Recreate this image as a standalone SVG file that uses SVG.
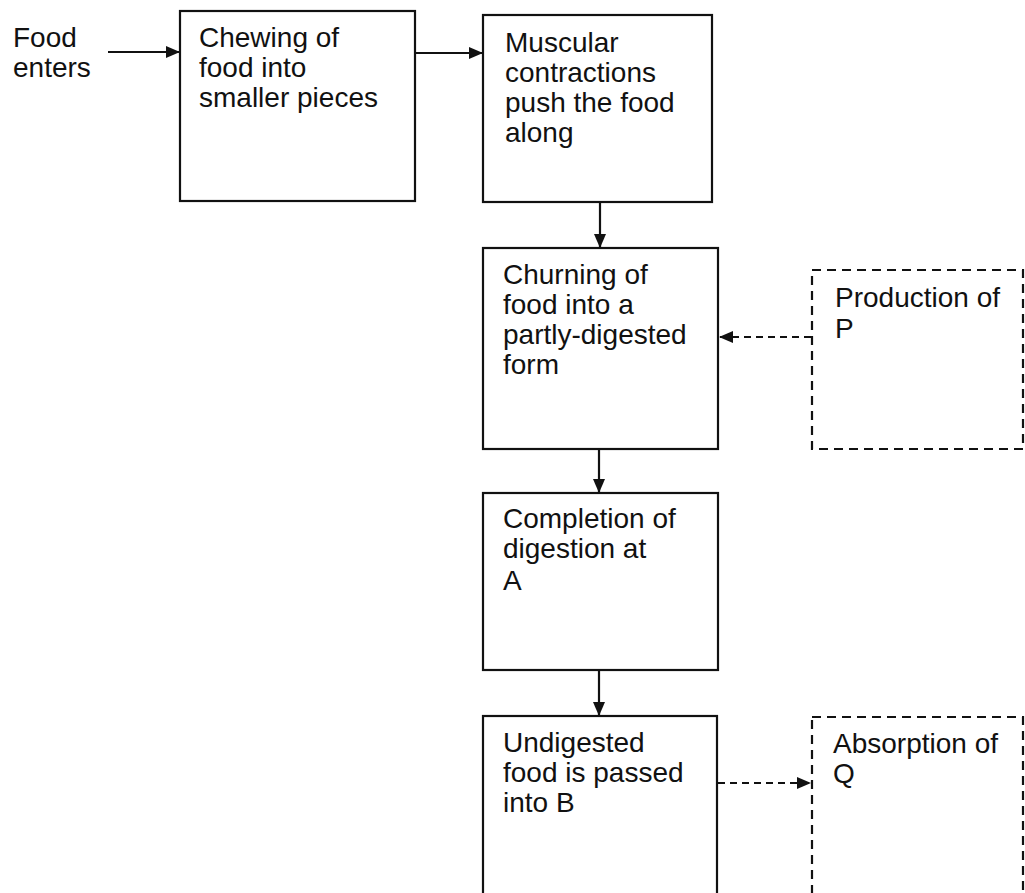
<svg xmlns="http://www.w3.org/2000/svg" width="1025" height="893" viewBox="0 0 1025 893">
<style>
.box{fill:#fff;stroke:#111;stroke-width:2.2}
.dbox{fill:#fff;stroke:#111;stroke-width:2.2;stroke-dasharray:9 6}
.t{font-family:"Liberation Sans",Arial,sans-serif;font-size:28px;fill:#111}
.c{stroke:#111;stroke-width:2.2;fill:none}
.dc{stroke:#111;stroke-width:2;fill:none;stroke-dasharray:7 5}
</style>
<defs>
<marker id="ah" markerUnits="userSpaceOnUse" markerWidth="16" markerHeight="14" refX="14" refY="7" orient="auto">
<path d="M0,1 L14,7 L0,13 Z" fill="#111"/>
</marker>
</defs>
<rect width="1025" height="893" fill="#fff"/>
<g id="food-enters"><text class="t" x="13" y="47">Food</text><text class="t" x="13" y="77">enters</text></g>
<g id="chewing"><rect class="box" x="180" y="11" width="235" height="190"/>
<text class="t" x="199" y="47">Chewing of</text><text class="t" x="199" y="77">food into</text><text class="t" x="199" y="107">smaller pieces</text></g>
<g id="muscular"><rect class="box" x="483" y="15" width="229" height="187"/>
<text class="t" x="505" y="52">Muscular</text><text class="t" x="505" y="82">contractions</text><text class="t" x="505" y="112">push the food</text><text class="t" x="505" y="142">along</text></g>
<g id="churning"><rect class="box" x="483" y="248" width="235" height="201"/>
<text class="t" x="503" y="284">Churning of</text><text class="t" x="503" y="314">food into a</text><text class="t" x="503" y="344">partly-digested</text><text class="t" x="503" y="374">form</text></g>
<g id="production"><rect class="dbox" x="812" y="270" width="211" height="179"/>
<text class="t" x="835" y="307">Production of</text><text class="t" x="835" y="338">P</text></g>
<g id="completion"><rect class="box" x="483" y="493" width="235" height="177"/>
<text class="t" x="503" y="528">Completion of</text><text class="t" x="503" y="558">digestion at</text><text class="t" x="503" y="590">A</text></g>
<g id="undigested"><rect class="box" x="483" y="716" width="234" height="200"/>
<text class="t" x="503" y="752">Undigested</text><text class="t" x="503" y="782">food is passed</text><text class="t" x="503" y="812">into B</text></g>
<g id="absorption"><rect class="dbox" x="812" y="717" width="211" height="200"/>
<text class="t" x="833" y="753">Absorption of</text><text class="t" x="833" y="783">Q</text></g>
<g id="connectors">
<line class="c" x1="108" y1="52" x2="180" y2="52" marker-end="url(#ah)"/>
<line class="c" x1="415" y1="53" x2="483" y2="53" marker-end="url(#ah)"/>
<line class="c" x1="600" y1="202" x2="600" y2="248" marker-end="url(#ah)"/>
<line class="c" x1="599" y1="449" x2="599" y2="493" marker-end="url(#ah)"/>
<line class="c" x1="599" y1="670" x2="599" y2="716" marker-end="url(#ah)"/>
<line class="dc" x1="811" y1="337" x2="719" y2="337" marker-end="url(#ah)"/>
<line class="dc" x1="718" y1="783" x2="811" y2="783" marker-end="url(#ah)"/>
</g>
</svg>
